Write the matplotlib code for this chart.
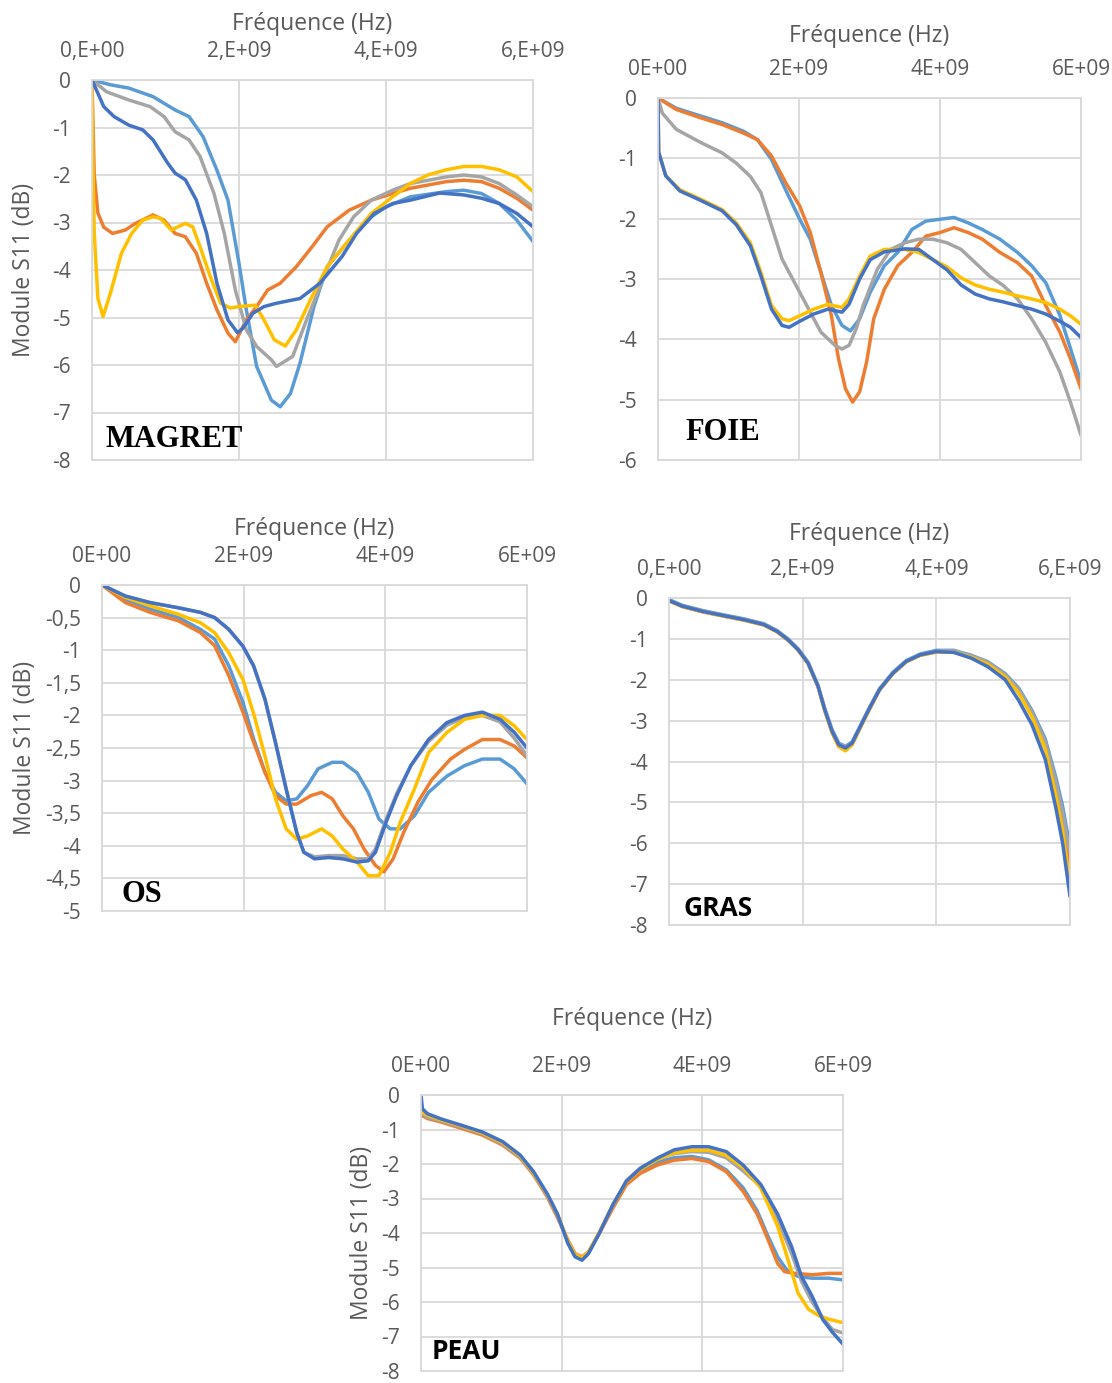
import matplotlib
matplotlib.use("Agg")
import matplotlib.pyplot as plt
import numpy as np

# ---------------------------------------------------------------------------
# Series colours (Office palette order) and measured S11 curves, freq in GHz
# ---------------------------------------------------------------------------
C_LBLUE = "#5B9BD5"
C_ORANGE = "#ED7D31"
C_GRAY = "#A5A5A5"
C_GOLD = "#FFC000"
C_DBLUE = "#4472C4"

# ----- MAGRET -----
magret_f1 = [0, 0.25, 0.5, 0.83, 1.13, 1.32, 1.51, 1.7, 1.85, 2.0, 2.1, 2.24, 2.44, 2.56, 2.7, 2.83,
             3.02, 3.2, 3.5, 3.8, 4.0, 4.33, 4.82, 5.06, 5.3, 5.54, 5.78, 6.0]
magret_s1 = [0, -0.1, -0.17, -0.35, -0.63, -0.77, -1.19, -1.9, -2.53, -3.86, -4.84, -6.03, -6.74, -6.88,
             -6.6, -5.96, -4.77, -3.93, -3.37, -2.88, -2.67, -2.46, -2.35, -2.32, -2.39, -2.6, -2.95, -3.4]
magret_f2 = [0, 0.03, 0.08, 0.16, 0.28, 0.45, 0.59, 0.83, 0.98, 1.13, 1.27, 1.42, 1.56, 1.7, 1.85, 1.95,
             2.1, 2.24, 2.39, 2.56, 2.78, 3.0, 3.2, 3.5, 3.8, 4.09, 4.33, 4.82, 5.06, 5.3, 5.54, 5.78, 6.0]
magret_s2 = [0, -2.0, -2.8, -3.1, -3.23, -3.16, -3.02, -2.84, -2.95, -3.23, -3.3, -3.65, -4.28, -4.84,
             -5.33, -5.51, -5.05, -4.77, -4.42, -4.28, -3.93, -3.5, -3.09, -2.74, -2.53, -2.39, -2.28,
             -2.14, -2.11, -2.14, -2.28, -2.49, -2.74]
magret_f3 = [0, 0.2, 0.5, 0.79, 0.98, 1.13, 1.32, 1.47, 1.66, 1.8, 1.95, 2.1, 2.24, 2.44, 2.51, 2.73,
             2.92, 3.12, 3.36, 3.56, 3.8, 4.09, 4.33, 4.82, 5.06, 5.3, 5.54, 5.78, 6.0]
magret_s3 = [0, -0.25, -0.42, -0.56, -0.77, -1.09, -1.26, -1.61, -2.39, -3.23, -4.42, -5.26, -5.61,
             -5.89, -6.03, -5.82, -5.05, -4.28, -3.37, -2.88, -2.53, -2.32, -2.18, -2.04, -2.0, -2.04,
             -2.18, -2.42, -2.67]
magret_f4 = [0, 0.01, 0.03, 0.08, 0.15, 0.25, 0.4, 0.54, 0.69, 0.83, 0.93, 1.08, 1.17, 1.27, 1.37, 1.47,
             1.61, 1.75, 1.88, 2.0, 2.22, 2.34, 2.48, 2.63, 2.78, 2.97, 3.2, 3.5, 3.8, 4.09, 4.33, 4.57,
             4.82, 5.06, 5.3, 5.54, 5.78, 6.0]
magret_s4 = [0, -1.5, -3.2, -4.6, -4.98, -4.49, -3.65, -3.23, -2.95, -2.88, -2.91, -3.16, -3.09, -3.02,
             -3.09, -3.51, -4.14, -4.7, -4.8, -4.77, -4.74, -5.05, -5.47, -5.6, -5.26, -4.63, -3.93,
             -3.37, -2.81, -2.46, -2.18, -2.0, -1.89, -1.82, -1.82, -1.89, -2.04, -2.35]
magret_f5 = [0, 0.16, 0.3, 0.5, 0.69, 0.83, 1.03, 1.13, 1.27, 1.42, 1.56, 1.7, 1.85, 1.98, 2.05, 2.19,
             2.34, 2.51, 2.83, 3.1, 3.25, 3.4, 3.6, 3.84, 4.09, 4.33, 4.73, 5.06, 5.3, 5.54, 5.78, 6.0]
magret_s5 = [0, -0.56, -0.77, -0.95, -1.05, -1.26, -1.75, -1.96, -2.1, -2.53, -3.23, -4.28, -5.05, -5.32,
             -5.23, -4.91, -4.77, -4.7, -4.6, -4.28, -4.0, -3.72, -3.23, -2.81, -2.6, -2.53, -2.38,
             -2.42, -2.49, -2.6, -2.81, -3.09]

# ----- FOIE -----
foie_f1 = [0, 0.26, 0.61, 0.91, 1.21, 1.41, 1.61, 1.81, 2.01, 2.16, 2.31, 2.46, 2.61, 2.73, 2.86, 3.01,
           3.21, 3.4, 3.6, 3.8, 4.0, 4.2, 4.4, 4.6, 4.85, 5.1, 5.3, 5.5, 5.7, 5.85, 6.0]
foie_s1 = [0, -0.17, -0.3, -0.41, -0.55, -0.69, -1.02, -1.52, -2.01, -2.34, -2.89, -3.44, -3.77, -3.86,
           -3.66, -3.22, -2.78, -2.56, -2.18, -2.04, -2.01, -1.98, -2.07, -2.18, -2.34, -2.56, -2.78,
           -3.06, -3.6, -4.15, -4.71]
foie_f2 = [0, 0.26, 0.61, 0.91, 1.21, 1.41, 1.61, 1.81, 2.01, 2.16, 2.31, 2.46, 2.56, 2.66, 2.76, 2.86,
           2.96, 3.06, 3.21, 3.4, 3.6, 3.8, 4.0, 4.2, 4.4, 4.6, 4.85, 5.1, 5.3, 5.5, 5.7, 5.85, 6.0]
foie_s2 = [0, -0.19, -0.33, -0.44, -0.58, -0.69, -0.96, -1.4, -1.79, -2.23, -2.89, -3.61, -4.32, -4.82,
           -5.04, -4.87, -4.37, -3.66, -3.17, -2.78, -2.56, -2.29, -2.23, -2.15, -2.23, -2.34, -2.56,
           -2.73, -2.95, -3.44, -3.88, -4.32, -4.82]
foie_f3 = [0, 0.06, 0.26, 0.61, 0.91, 1.11, 1.31, 1.46, 1.61, 1.76, 1.96, 2.11, 2.31, 2.51, 2.61, 2.71,
           2.81, 2.91, 3.11, 3.3, 3.5, 3.7, 3.9, 4.1, 4.3, 4.5, 4.7, 4.9, 5.1, 5.3, 5.5, 5.7, 5.85, 6.0]
foie_s3 = [0, -0.25, -0.52, -0.74, -0.91, -1.08, -1.3, -1.57, -2.12, -2.67, -3.11, -3.44, -3.88, -4.1,
           -4.16, -4.1, -3.83, -3.44, -2.84, -2.51, -2.4, -2.34, -2.34, -2.4, -2.51, -2.73, -2.95, -3.11,
           -3.33, -3.66, -4.05, -4.54, -5.04, -5.59]
foie_f45 = [0, 0.01, 0.11, 0.31, 0.61, 0.91, 1.11, 1.31, 1.46, 1.61, 1.76, 1.86, 2.01, 2.21, 2.41, 2.61,
            2.71, 2.86, 3.01, 3.21, 3.5, 3.7, 3.9, 4.1, 4.3, 4.5, 4.7, 4.9, 5.1, 5.3, 5.5, 5.7, 5.85, 6.0]
foie_s4 = [0, -0.9, -1.29, -1.52, -1.68, -1.85, -2.07, -2.4, -2.89, -3.44, -3.66, -3.69, -3.61, -3.5,
           -3.42, -3.47, -3.33, -2.95, -2.62, -2.51, -2.51, -2.56, -2.68, -2.8, -2.98, -3.1, -3.17, -3.22,
           -3.28, -3.33, -3.39, -3.5, -3.61, -3.75]
foie_s5 = [0, -0.9, -1.29, -1.54, -1.7, -1.87, -2.1, -2.45, -2.95, -3.5, -3.77, -3.8, -3.7, -3.58, -3.5,
           -3.55, -3.42, -3.0, -2.68, -2.55, -2.5, -2.51, -2.68, -2.85, -3.1, -3.25, -3.33, -3.38, -3.44,
           -3.5, -3.58, -3.7, -3.8, -3.97]

# ----- OS -----
os_f1 = [0, 0.33, 0.68, 1.08, 1.39, 1.59, 1.79, 1.99, 2.14, 2.3, 2.45, 2.6, 2.75, 2.9, 3.05, 3.25, 3.4,
         3.6, 3.76, 3.91, 4.07, 4.21, 4.41, 4.61, 4.87, 5.12, 5.37, 5.62, 5.82, 6.0]
os_s1 = [0, -0.22, -0.37, -0.5, -0.68, -0.83, -1.24, -1.8, -2.36, -2.87, -3.18, -3.31, -3.28, -3.08,
         -2.82, -2.72, -2.72, -2.88, -3.18, -3.59, -3.74, -3.74, -3.54, -3.18, -2.93, -2.77, -2.67,
         -2.67, -2.82, -3.05]
os_f2 = [0, 0.33, 0.68, 1.08, 1.39, 1.59, 1.79, 1.99, 2.14, 2.3, 2.45, 2.6, 2.75, 2.95, 3.1, 3.25, 3.4,
         3.55, 3.7, 3.86, 3.98, 4.11, 4.26, 4.46, 4.66, 4.92, 5.12, 5.37, 5.62, 5.82, 6.0]
os_s2 = [0, -0.27, -0.42, -0.55, -0.73, -0.93, -1.39, -1.95, -2.41, -2.87, -3.23, -3.36, -3.36, -3.23,
         -3.18, -3.28, -3.54, -3.74, -4.05, -4.3, -4.4, -4.2, -3.79, -3.33, -2.98, -2.67, -2.52, -2.37,
         -2.37, -2.47, -2.65]
os_f35 = [0, 0.33, 0.68, 1.08, 1.39, 1.59, 1.79, 1.99, 2.14, 2.3, 2.45, 2.6, 2.75, 2.85, 3.0, 3.2, 3.4,
          3.6, 3.76, 3.86, 4.01, 4.16, 4.36, 4.61, 4.87, 5.12, 5.37, 5.62, 5.82, 6.0]
os_s3 = [0, -0.17, -0.27, -0.35, -0.42, -0.5, -0.68, -0.94, -1.24, -1.75, -2.42, -3.13, -3.8, -4.1,
         -4.17, -4.15, -4.15, -4.2, -4.2, -4.05, -3.6, -3.2, -2.77, -2.4, -2.15, -2.03, -2.0, -2.1,
         -2.35, -2.62]
os_f4 = [0, 0.33, 0.68, 1.08, 1.39, 1.59, 1.79, 1.99, 2.14, 2.3, 2.45, 2.6, 2.75, 2.9, 3.1, 3.25, 3.4,
         3.6, 3.76, 3.91, 4.07, 4.21, 4.41, 4.61, 4.87, 5.12, 5.37, 5.62, 5.82, 6.0]
os_s4 = [0, -0.19, -0.32, -0.45, -0.58, -0.73, -1.04, -1.45, -1.97, -2.62, -3.28, -3.74, -3.9, -3.85,
         -3.74, -3.85, -4.05, -4.25, -4.46, -4.46, -4.1, -3.64, -3.13, -2.57, -2.26, -2.06, -2.0, -2.0,
         -2.16, -2.37]
os_s5 = [0, -0.17, -0.27, -0.35, -0.42, -0.5, -0.68, -0.94, -1.24, -1.75, -2.42, -3.13, -3.8, -4.1,
         -4.2, -4.18, -4.2, -4.25, -4.23, -4.1, -3.64, -3.23, -2.77, -2.37, -2.11, -2.0, -1.95, -2.06,
         -2.26, -2.5]

# ----- GRAS -----
gras_f = [0, 0.2, 0.51, 0.81, 1.12, 1.42, 1.62, 1.78, 1.93, 2.08, 2.23, 2.33, 2.44, 2.54, 2.64, 2.74,
          2.84, 2.99, 3.15, 3.35, 3.55, 3.76, 4.0, 4.26, 4.52, 4.77, 5.03, 5.23, 5.43, 5.63, 5.79, 5.89,
          6.0]
gras_s1 = [-0.04, -0.18, -0.31, -0.41, -0.51, -0.63, -0.8, -1.0, -1.24, -1.57, -2.14, -2.7, -3.22,
           -3.55, -3.63, -3.52, -3.2, -2.71, -2.22, -1.82, -1.53, -1.37, -1.28, -1.28, -1.4, -1.56,
           -1.85, -2.2, -2.75, -3.45, -4.4, -5.1, -6.1]
gras_s2 = [-0.07, -0.21, -0.34, -0.44, -0.54, -0.66, -0.83, -1.03, -1.27, -1.6, -2.17, -2.75, -3.29,
           -3.63, -3.72, -3.58, -3.24, -2.75, -2.25, -1.85, -1.56, -1.4, -1.32, -1.32, -1.44, -1.6,
           -1.9, -2.28, -2.85, -3.6, -4.65, -5.45, -6.6]
gras_s3 = [-0.05, -0.19, -0.32, -0.42, -0.52, -0.64, -0.81, -1.01, -1.25, -1.58, -2.15, -2.72, -3.24,
           -3.57, -3.65, -3.54, -3.21, -2.72, -2.23, -1.83, -1.54, -1.38, -1.3, -1.29, -1.41, -1.57,
           -1.87, -2.23, -2.8, -3.52, -4.5, -5.25, -6.25]
gras_s4 = [-0.07, -0.21, -0.34, -0.44, -0.54, -0.66, -0.83, -1.03, -1.27, -1.6, -2.17, -2.75, -3.29,
           -3.64, -3.74, -3.59, -3.24, -2.75, -2.25, -1.85, -1.56, -1.4, -1.32, -1.33, -1.45, -1.62,
           -1.93, -2.32, -2.9, -3.7, -4.85, -5.7, -7.0]
gras_s5 = [-0.06, -0.2, -0.33, -0.43, -0.53, -0.65, -0.82, -1.02, -1.26, -1.59, -2.16, -2.73, -3.26,
           -3.59, -3.67, -3.55, -3.22, -2.73, -2.24, -1.84, -1.55, -1.39, -1.31, -1.33, -1.47, -1.68,
           -2.0, -2.5, -3.1, -3.95, -5.15, -6.0, -7.3]

# ----- PEAU -----
peau_f = [0, 0.02, 0.09, 0.28, 0.58, 0.87, 1.16, 1.41, 1.6, 1.8, 1.94, 2.09, 2.19, 2.29, 2.38, 2.53,
          2.73, 2.92, 3.12, 3.36, 3.6, 3.85, 4.09, 4.34, 4.58]
peau_s1 = [-0.45, -0.52, -0.62, -0.74, -0.92, -1.12, -1.4, -1.78, -2.27, -2.92, -3.5, -4.25, -4.62,
           -4.72, -4.57, -4.02, -3.2, -2.55, -2.2, -1.95, -1.82, -1.78, -1.88, -2.17, -2.69]
peau_s2 = [-0.55, -0.6, -0.68, -0.78, -0.97, -1.16, -1.45, -1.83, -2.31, -2.97, -3.55, -4.21, -4.6,
           -4.69, -4.55, -4.03, -3.27, -2.6, -2.27, -2.03, -1.89, -1.84, -1.93, -2.22, -2.79]
peau_s3 = [-0.5, -0.55, -0.64, -0.75, -0.93, -1.12, -1.42, -1.8, -2.27, -2.93, -3.5, -4.28, -4.65,
           -4.75, -4.57, -4.02, -3.2, -2.48, -2.12, -1.86, -1.7, -1.64, -1.66, -1.82, -2.2]
peau_s4 = [-0.45, -0.5, -0.58, -0.72, -0.9, -1.1, -1.38, -1.77, -2.25, -2.9, -3.45, -4.25, -4.62,
           -4.72, -4.55, -4.0, -3.17, -2.52, -2.15, -1.87, -1.68, -1.6, -1.6, -1.75, -2.1]
peau_s5 = [0, -0.4, -0.54, -0.69, -0.88, -1.07, -1.35, -1.74, -2.22, -2.88, -3.45, -4.31, -4.69, -4.79,
           -4.6, -4.03, -3.17, -2.5, -2.12, -1.83, -1.59, -1.5, -1.5, -1.64, -2.03]
# high-frequency tails (continuing after 4.58 GHz)
peau_tail_f1 = [4.78, 4.92, 5.07, 5.2, 5.36, 5.56, 5.8, 6.0]
peau_tail_s1 = [-3.36, -4.03, -4.69, -5.07, -5.26, -5.31, -5.31, -5.36]
peau_tail_f2 = [4.78, 4.92, 5.07, 5.17, 5.32, 5.56, 5.8, 6.0]
peau_tail_s2 = [-3.45, -4.12, -4.88, -5.12, -5.17, -5.21, -5.17, -5.17]
peau_tail_f3 = [4.83, 5.07, 5.27, 5.41, 5.56, 5.71, 5.85, 6.0]
peau_tail_s3 = [-2.65, -3.6, -4.6, -5.4, -6.0, -6.45, -6.8, -6.9]
peau_tail_f4 = [4.83, 5.07, 5.22, 5.36, 5.51, 5.66, 5.8, 6.0]
peau_tail_s4 = [-2.69, -3.8, -4.79, -5.74, -6.21, -6.4, -6.5, -6.6]
peau_tail_f5 = [4.83, 5.07, 5.27, 5.41, 5.56, 5.71, 5.85, 6.0]
peau_tail_s5 = [-2.59, -3.45, -4.4, -5.26, -5.83, -6.5, -6.88, -7.22]

# Axis tick labels
x_ticks_comma = ["0,E+00", "2,E+09", "4,E+09", "6,E+09"]
x_ticks_plain = ["0E+00", "2E+09", "4E+09", "6E+09"]
os_yticks = [0, -0.5, -1, -1.5, -2, -2.5, -3, -3.5, -4, -4.5, -5]
os_yticklabels = ["0", "-0,5", "-1", "-1,5", "-2", "-2,5", "-3", "-3,5", "-4", "-4,5", "-5"]

# ---------------------------------------------------------------------------
FONT = "Open Sans"
TXT = "#595959"
GRID = "#D9D9D9"
LW = 2.5
TICK_FS = 15
LABEL_FS = 16.5

fig = plt.figure(figsize=(11.12, 13.83), dpi=100)
W, H = 1112, 1383


def make_axes(left, right, top, bottom):
    return fig.add_axes([left / W, 1 - bottom / H, (right - left) / W, (bottom - top) / H])


def style(ax, ymin, xlabels, yticks, ylabels, ylabelpad, xlabelpad):
    ax.set_xlim(0, 6e9)
    ax.set_ylim(ymin, 0)
    ax.xaxis.tick_top()
    ax.xaxis.set_label_position("top")
    ax.set_xticks([0, 2e9, 4e9, 6e9])
    ax.set_xticklabels(xlabels)
    ax.set_yticks(yticks)
    ax.set_yticklabels(ylabels)
    ax.tick_params(length=0, labelsize=TICK_FS, colors=TXT)
    ax.tick_params(axis="y", pad=15)
    ax.tick_params(axis="x", pad=13)
    for lab in ax.get_xticklabels() + ax.get_yticklabels():
        lab.set_fontfamily(FONT)
    ax.set_xlabel("Fréquence (Hz)", fontsize=LABEL_FS, color=TXT, family=FONT, labelpad=xlabelpad)
    if ylabelpad is not None:
        ax.set_ylabel("Module S11 (dB)", fontsize=LABEL_FS, color=TXT, family=FONT,
                      labelpad=ylabelpad)
    ax.grid(True, color=GRID, lw=1.3)
    ax.set_axisbelow(True)
    for sp in ax.spines.values():
        sp.set_color(GRID)
        sp.set_linewidth(1.3)


def draw(ax, curves):
    for f, s, c in curves:
        ax.plot(np.asarray(f) * 1e9, s, color=c, lw=LW, solid_joinstyle="round",
                solid_capstyle="round")


# MAGRET
ax = make_axes(92, 533, 80, 460)
style(ax, -8, x_ticks_comma, list(range(0, -9, -1)), [str(v) for v in range(0, -9, -1)], 12, 8)
draw(ax, [(magret_f1, magret_s1, C_LBLUE), (magret_f2, magret_s2, C_ORANGE),
          (magret_f3, magret_s3, C_GRAY), (magret_f4, magret_s4, C_GOLD),
          (magret_f5, magret_s5, C_DBLUE)])
ax.text(0.03, 0.055, "MAGRET", transform=ax.transAxes, family="Liberation Serif",
        fontweight="bold", fontsize=22, va="center", ha="left")

# FOIE
ax = make_axes(658, 1081, 98, 460)
style(ax, -6, x_ticks_plain, list(range(0, -7, -1)), [str(v) for v in range(0, -7, -1)], None, 12)
draw(ax, [(foie_f1, foie_s1, C_LBLUE), (foie_f2, foie_s2, C_ORANGE), (foie_f3, foie_s3, C_GRAY),
          (foie_f45, foie_s4, C_GOLD), (foie_f45, foie_s5, C_DBLUE)])
ax.text(0.064, 0.077, "FOIE", transform=ax.transAxes, family="Liberation Serif",
        fontweight="bold", fontsize=22, va="center", ha="left")

# OS
ax = make_axes(102, 527, 585, 911)
style(ax, -5, x_ticks_plain, os_yticks, os_yticklabels, 6, 8)
draw(ax, [(os_f1, os_s1, C_LBLUE), (os_f2, os_s2, C_ORANGE), (os_f35, os_s3, C_GRAY),
          (os_f4, os_s4, C_GOLD), (os_f35, os_s5, C_DBLUE)])
ax.text(0.047, 0.052, "OS", transform=ax.transAxes, family="Liberation Serif",
        fontweight="bold", fontsize=22, va="center", ha="left")

# GRAS
ax = make_axes(669, 1070, 598, 925)
style(ax, -8, x_ticks_comma, list(range(0, -9, -1)), [str(v) for v in range(0, -9, -1)], None, 14)
draw(ax, [(gras_f, gras_s1, C_LBLUE), (gras_f, gras_s2, C_ORANGE), (gras_f, gras_s3, C_GRAY),
          (gras_f, gras_s4, C_GOLD), (gras_f, gras_s5, C_DBLUE)])
ax.text(0.037, 0.049, "GRAS", transform=ax.transAxes, family=FONT,
        fontweight="bold", fontsize=19, va="center", ha="left")

# PEAU
ax = make_axes(421, 843, 1095, 1371)
style(ax, -8, x_ticks_plain, list(range(0, -9, -1)), [str(v) for v in range(0, -9, -1)], 5, 22)
draw(ax, [(peau_f + peau_tail_f1, peau_s1 + peau_tail_s1, C_LBLUE),
          (peau_f + peau_tail_f2, peau_s2 + peau_tail_s2, C_ORANGE),
          (peau_f + peau_tail_f3, peau_s3 + peau_tail_s3, C_GRAY),
          (peau_f + peau_tail_f4, peau_s4 + peau_tail_s4, C_GOLD),
          (peau_f + peau_tail_f5, peau_s5 + peau_tail_s5, C_DBLUE)])
ax.text(0.024, 0.071, "PEAU", transform=ax.transAxes, family=FONT,
        fontweight="bold", fontsize=19, va="center", ha="left")

fig.savefig("out.png", dpi=100)
